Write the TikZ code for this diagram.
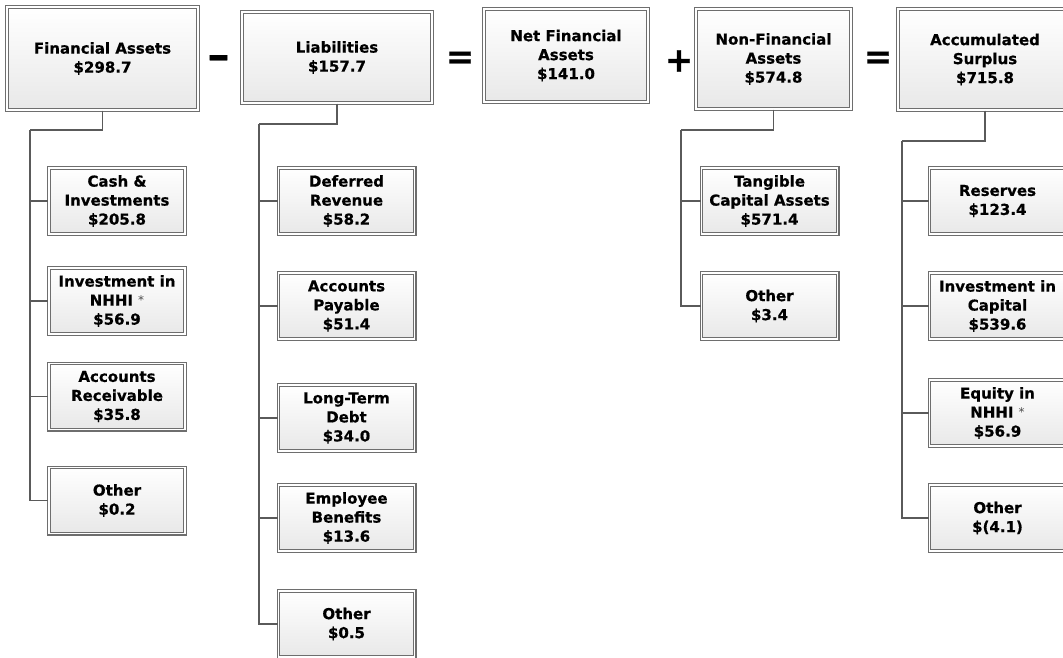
\documentclass[tikz,border=0pt]{standalone}
\usepackage{fontspec}
\setmainfont{DejaVu Sans}[BoldFeatures={FakeBold=0.6}]
\usepackage{tikz}
\usetikzlibrary{positioning}
\definecolor{boxedge}{HTML}{6E6E6E}
\definecolor{linkgray}{HTML}{5A5A5A}
\newcommand{\nhhimark}{\raisebox{1pt}{\fontsize{12}{12}\selectfont\mdseries\color{black!70}*}}

\begin{document}
\begin{tikzpicture}[
  x=1pt, y=-1pt,
  acctbox/.style={draw=boxedge, double=white, double distance=1.6pt, line width=1.1pt,
                  top color=white, bottom color=black!9, inner sep=0pt, align=center,
                  font=\fontsize{15}{19}\selectfont\bfseries},
  subbox/.style={acctbox, minimum width=136.2pt, minimum height=66.2pt},
  opsign/.style={font=\fontsize{34}{34}\selectfont\bfseries},
  link/.style={draw=linkgray, line width=1.3pt}
]
  \clip (0,0) rectangle (1063,658);

  % top row
  \node[acctbox, minimum width=191.2pt, minimum height=103.2pt] (fa) at (102.5,58.5) {Financial Assets\\\$298.7};
  \node[opsign, xscale=1.3, yscale=1.2] (minus) at (218.5,62) {–};
  \node[acctbox, minimum width=190.2pt, minimum height=91.2pt] (liab) at (337,57.5) {Liabilities\\\$157.7};
  \node[opsign] (eq1) at (460,60) {=};
  \node[acctbox, minimum width=164.2pt, minimum height=93.2pt] (nfa) at (566,55.5) {Net Financial\\Assets\\\$141.0};
  \node[opsign] (plus) at (679,61) {+};
  \node[acctbox, minimum width=155.2pt, minimum height=100.2pt] (nonfa) at (773.5,59) {Non-Financial\\Assets\\\$574.8};
  \node[opsign] (eq2) at (878,60) {=};
  \node[acctbox, minimum width=174.2pt, minimum height=101.2pt] (surplus) at (985,59.5) {Accumulated\\Surplus\\\$715.8};

  % financial assets
  \node[subbox] (fa-cash) at (117,201) {Cash \&\\Investments\\\$205.8};
  \node[subbox] (fa-nhhi) at (117,301) {Investment in\\NHHI \nhhimark\\\$56.9};
  \node[subbox] (fa-recv) at (117,396.5) {Accounts\\Receivable\\\$35.8};
  \node[subbox] (fa-other) at (117,500.5) {Other\\\$0.2};

  % liabilities
  \node[subbox] (liab-defer) at (346.5,201) {Deferred\\Revenue\\\$58.2};
  \node[subbox] (liab-pay) at (346.5,306) {Accounts\\Payable\\\$51.4};
  \node[subbox] (liab-debt) at (346.5,418) {Long-Term\\Debt\\\$34.0};
  \node[subbox] (liab-emp) at (346.5,518) {Employee\\Benefits\\\$13.6};
  \node[subbox] (liab-other) at (346.5,624) {Other\\\$0.5};

  % non-financial assets
  \node[subbox] (nonfa-tca) at (769.5,201) {Tangible\\Capital Assets\\\$571.4};
  \node[subbox] (nonfa-other) at (769.5,306) {Other\\\$3.4};

  % accumulated surplus
  \node[subbox] (surplus-res) at (997.5,201) {Reserves\\\$123.4};
  \node[subbox] (surplus-cap) at (997.5,306) {Investment in\\Capital\\\$539.6};
  \node[subbox] (surplus-nhhi) at (997.5,413) {Equity in\\NHHI \nhhimark\\\$56.9};
  \node[subbox] (surplus-other) at (997.5,518) {Other\\\$(4.1)};

  % connectors
  \coordinate (fa-top) at (30,130);
  \coordinate (liab-top) at (259,124);
  \coordinate (nonfa-top) at (681,130);
  \coordinate (surplus-top) at (902,141);
  \draw[link] (fa.south) |- (fa-top);
  \draw[link] (liab.south) |- (liab-top);
  \draw[link] (nonfa.south) |- (nonfa-top);
  \draw[link] (surplus.south) |- (surplus-top);
  \foreach \kid in {cash,nhhi,recv,other}
    \draw[link] (fa-top) |- (fa-\kid.west);
  \foreach \kid in {defer,pay,debt,emp,other}
    \draw[link] (liab-top) |- (liab-\kid.west);
  \foreach \kid in {tca,other}
    \draw[link] (nonfa-top) |- (nonfa-\kid.west);
  \foreach \kid in {res,cap,nhhi,other}
    \draw[link] (surplus-top) |- (surplus-\kid.west);
\end{tikzpicture}
\end{document}
